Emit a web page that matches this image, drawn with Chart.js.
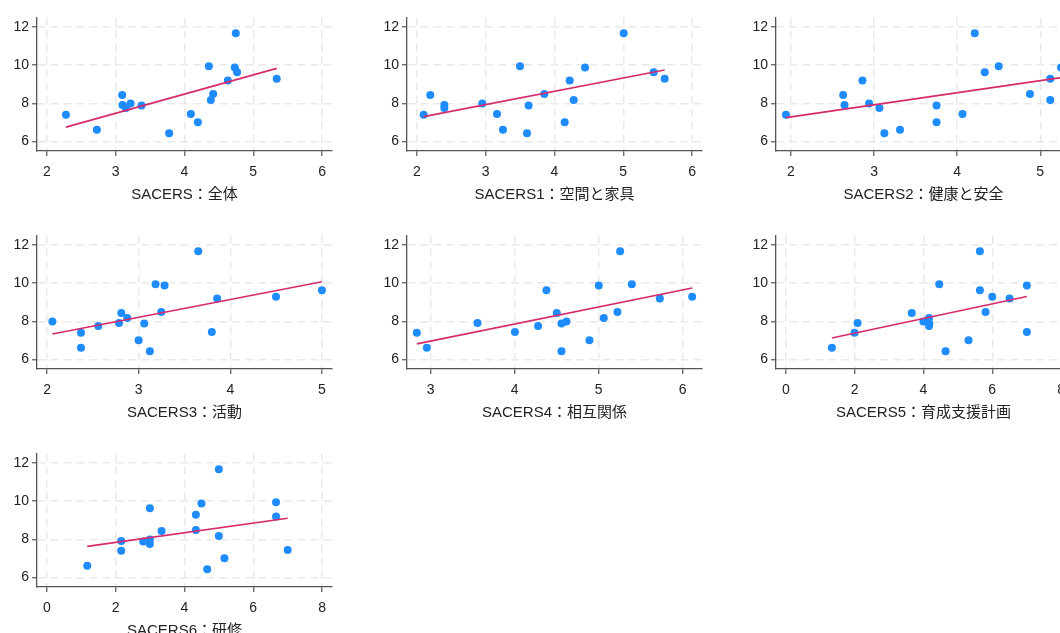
<!DOCTYPE html>
<html>
<head>
<meta charset="utf-8">
<script src="https://cdn.jsdelivr.net/npm/chart.js@4.4.1/dist/chart.umd.min.js"></script>
<style>
  html, body { margin: 0; padding: 0; background: #fff; overflow: hidden; }
  #wrap { position: relative; width: 1060px; height: 633px; overflow: hidden; }
  #wrap canvas { position: absolute; }
</style>
</head>
<body>
<div id="wrap"></div>
<script>
// x-axis titles, one per panel
const titles = [
  'SACERS：全体',
  'SACERS1：空間と家具',
  'SACERS2：健康と安全',
  'SACERS3：活動',
  'SACERS4：相互関係',
  'SACERS5：育成支援計画',
  'SACERS6：研修'
];

// outcome (y) for the 18 observations, same order in every x array below
const outcome = [11.67, 9.94, 9.87, 9.62, 9.28, 9.19, 8.48, 8.43, 8.17,
                 7.99, 7.91, 7.89, 7.75, 7.44, 7.40, 7.01, 6.61, 6.43];

const xTotal = [4.746, 4.354, 4.731, 4.765, 5.341, 4.630, 4.417, 3.094, 4.383,
                3.215, 3.099, 3.375, 3.148, 4.092, 2.276, 4.194, 2.726, 3.777];
const xS1 = [5.006, 3.498, 4.444, 5.442, 5.602, 4.221, 3.852, 2.194, 4.279,
             2.950, 2.398, 3.624, 2.398, 3.164, 2.097, 4.148, 3.251, 3.600];
const xS2 = [4.212, 4.500, 5.250, 4.332, 5.120, 2.860, 4.876, 2.628, 5.120,
             2.940, 2.644, 3.752, 3.064, 4.064, 1.940, 3.752, 3.312, 3.124];
const xS3 = [3.650, 3.184, 3.282, 5.000, 4.499, 3.856, 3.246, 2.810, 2.875,
             2.058, 2.785, 3.060, 2.559, 3.798, 2.370, 2.999, 2.370, 3.122];
const xS4 = [5.256, 5.395, 5.002, 4.379, 6.113, 5.728, 5.224, 4.502, 5.061,
             4.617, 3.559, 4.558, 4.280, 4.004, 2.837, 4.891, 2.956, 4.558];
const xS5 = [5.640, 4.458, 7.006, 5.640, 6.000, 6.503, 5.804, 3.658, 4.161,
             3.997, 2.081, 4.170, 4.161, 7.006, 1.994, 5.310, 1.335, 4.642];
const xS6 = [4.998, 6.663, 4.494, 2.993, 4.330, 6.663, 4.330, 3.332, 4.998,
             2.993, 2.160, 2.800, 2.993, 7.002, 2.160, 5.162, 1.172, 4.659];
const xSeries = [xTotal, xS1, xS2, xS3, xS4, xS5, xS6];

// fitted line end points
const fitX = [[2.276, 5.341], [2.097, 5.602], [1.940, 5.250], [2.058, 5.000],
              [2.837, 6.113], [1.335, 7.006], [1.172, 7.002]];
const fitY = [[6.75, 9.83], [7.30, 9.745], [7.25, 9.345], [7.335, 10.075],
              [6.815, 9.745], [7.128, 9.295], [7.63, 9.10]];

// axis ranges and ticks
const xMin = [1.855, 1.855, 1.82, 1.89, 2.72, -0.29, -0.29];
const xMax = [6.145, 6.145, 5.37, 5.11, 6.23, 8.29, 8.29];
const xTicks = [[2, 3, 4, 5, 6], [2, 3, 4, 5, 6], [2, 3, 4, 5], [2, 3, 4, 5],
                [3, 4, 5, 6], [0, 2, 4, 6, 8], [0, 2, 4, 6, 8]];
const yTicks = [6, 8, 10, 12];
const yMin = 5.5, yMax = 12.5;

const FONT = "'Liberation Sans', Arial, 'Noto Sans CJK JP', sans-serif";
const colLeft = [0, 370, 739];
const rowTop = [6, 224, 442];

const wrap = document.getElementById('wrap');

xSeries.forEach((xs, i) => {
  const cv = document.createElement('canvas');
  cv.width = 342;
  cv.height = 200;
  cv.style.left = colLeft[i % 3] + 'px';
  cv.style.top = rowTop[Math.floor(i / 3)] + 'px';
  wrap.appendChild(cv);

  const grid = {
    color: '#e9e9e9',
    lineWidth: 1.5,
    tickLength: 5,
    tickColor: '#555',
    tickWidth: 1.2,
    tickBorderDash: []
  };
  const border = { display: true, color: '#555', width: 1.3, dash: [8, 5] };

  new Chart(cv.getContext('2d'), {
    data: {
      datasets: [
        {
          type: 'line',
          data: fitX[i].map((x, k) => ({ x: x, y: fitY[i][k] })),
          borderColor: '#d62a6c',
          borderWidth: 1.6,
          pointRadius: 0,
          fill: false
        },
        {
          type: 'scatter',
          data: xs.map((x, k) => ({ x: x, y: outcome[k] })),
          backgroundColor: '#1e8cff',
          borderWidth: 0,
          pointRadius: 4
        }
      ]
    },
    options: {
      responsive: false,
      animation: false,
      layout: { padding: { left: 0, top: 10, right: 10, bottom: 0 } },
      plugins: { legend: { display: false }, tooltip: { enabled: false } },
      scales: {
        x: {
          type: 'linear',
          min: xMin[i], max: xMax[i],
          afterBuildTicks: s => { s.ticks = xTicks[i].map(v => ({ value: v })); },
          afterFit: s => { s.height = 55; },
          grid: grid,
          border: border,
          ticks: { color: '#222', font: { family: FONT, size: 14 }, padding: 8, maxRotation: 0 },
          title: {
            display: true, text: titles[i], color: '#222',
            font: { family: FONT, size: 15 }, padding: { top: 0, bottom: 2 }
          }
        },
        y: {
          type: 'linear',
          min: yMin, max: yMax,
          afterBuildTicks: s => { s.ticks = yTicks.map(v => ({ value: v })); },
          afterFit: s => { s.width = 37; },
          grid: grid,
          border: border,
          ticks: { color: '#222', font: { family: FONT, size: 14 }, padding: 3 }
        }
      }
    }
  });
});
</script>
</body>
</html>
